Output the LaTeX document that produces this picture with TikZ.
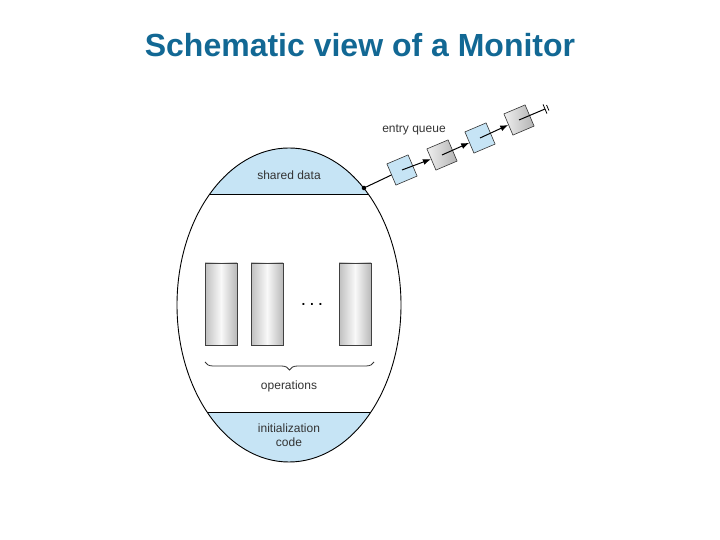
\documentclass[tikz,border=0pt]{standalone}
\usepackage{fontspec}
\setmainfont{Liberation Sans}
\usetikzlibrary{decorations.pathreplacing,arrows.meta}
\definecolor{titleBlue}{RGB}{18,104,148}
\definecolor{monitorBlue}{RGB}{198,228,245}
\newcommand{\queueAngle}{23}
\newcommand{\monitorEllipse}{(289,235) ellipse [x radius=112,y radius=157]}

\begin{document}
\begin{tikzpicture}[x=1pt,y=1pt,
  monitorText/.style={font=\fontsize{12}{14.5}\selectfont,text=black!80},
  opBox/.style={draw=black!75,line width=.8pt,minimum width=32pt,minimum height=82pt,inner sep=0pt,
                left color=gray!50,right color=gray!55,middle color=gray!5},
  queueBox/.style={draw=black!80,line width=.6pt,minimum size=23pt,inner sep=0pt,rotate=\queueAngle},
  queueBlue/.style={queueBox,fill=monitorBlue},
  queueGray/.style={queueBox,left color=gray!12,right color=gray!60},
  queueArrow/.style={line width=1pt,-{Latex[length=8pt,width=6pt]}}]
\useasboundingbox (0,0) rectangle (720,540);

%title
\node[font=\fontsize{32}{36}\selectfont\bfseries,text=titleBlue] (title) at (360,495) {Schematic view of a Monitor};

%monitor body
\begin{scope}
\clip \monitorEllipse;
\fill[monitorBlue] (150,345) rectangle (430,400);
\fill[monitorBlue] (150,60) rectangle (430,127);
\draw[line width=1pt] (150,345) -- (430,345);
\draw[line width=1pt] (150,127) -- (430,127);
\end{scope}
\draw[line width=.9pt] \monitorEllipse;

\node[monitorText] (sharedData) at (289,365) {shared data};
\node[opBox]       (opOne)      at (221,236) {};
\node[opBox]       (opTwo)      at (267,236) {};
\node[opBox]       (opLast)     at (355,236) {};
\node[font=\fontsize{19}{20}\selectfont] (opDots) at (312,236) {.\,.\,.};
\coordinate (braceLeft)  at (205,178);
\coordinate (braceRight) at (374,178);
\draw[decorate,decoration={brace,mirror,amplitude=8pt},line width=.8pt,black!80] (braceLeft) -- (braceRight);
\node[monitorText] (operations) at (289,154) {operations};
\node[monitorText,align=center] (initCode) at (289,105) {initialization\\code};

%entry queue
\node[circle,fill,inner sep=1.6pt] (entryPoint) at (364,352) {};
\node[queueBlue] (queueOne)   at (402,370) {};
\node[queueGray] (queueTwo)   at (442,385) {};
\node[queueBlue] (queueThree) at (480,402) {};
\node[queueGray] (queueFour)  at (519,420) {};
\coordinate (queueTail) at (545,431);
\node[monitorText] (entryQueue) at (414,410) {entry queue};

\draw[line width=1pt] (entryPoint) -- (queueOne);
\draw[queueArrow] (queueOne.center) -- (queueTwo);
\draw[queueArrow] (queueTwo.center) -- (queueThree);
\draw[queueArrow] (queueThree.center) -- (queueFour);
\draw[line width=1pt] (queueFour.center) -- (queueTail);
\begin{scope}[shift={(queueTail)},rotate=\queueAngle,line width=.8pt]
\draw (0,-5) -- (0,5);
\draw (3,-3) -- (3,3);
\end{scope}
\end{tikzpicture}
\end{document}
